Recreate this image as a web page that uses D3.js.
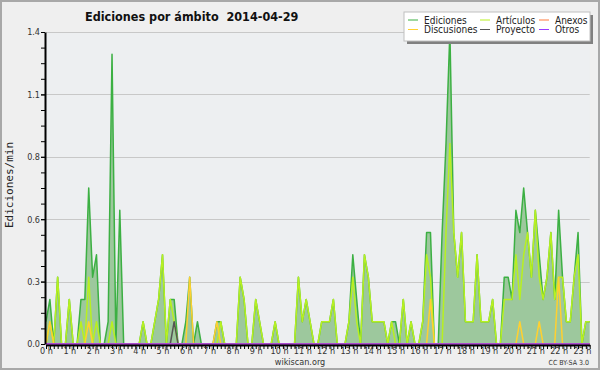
<!DOCTYPE html>
<html>
<head>
<meta charset="utf-8">
<script src="https://cdn.jsdelivr.net/npm/d3@7"></script>
<style>
body { margin: 0; background: #fff; }
svg { display: block; }
</style>
</head>
<body>
<div id="chart"></div>
<script>
// valores por franja de 10 minutos (0:00 .. 23:20), ediciones/min
var ediciones = [
  0.1,0.2,0,0.3,0,0, 0.2,0,0,0.2,0.2,0.7,
  0.3,0.4,0,0,0.1,1.3, 0,0.6,0,0,0,0,
  0,0.1,0,0,0.1,0.2, 0.4,0,0.2,0.2,0,0,
  0.1,0.3,0,0.1,0,0, 0,0,0.1,0.1,0,0,
  0,0,0.3,0.2,0,0, 0.2,0.1,0,0,0,0.1,
  0,0,0,0,0,0.3, 0.1,0.2,0.1,0,0,0.1,
  0.1,0.1,0.2,0,0,0, 0.1,0.4,0.2,0,0.4,0.3,
  0.1,0.1,0.1,0.1,0,0.1, 0.1,0,0.2,0,0.1,0,
  0,0.1,0.5,0.5,0,0, 0.5,0.9,1.4,0.5,0.3,0.5,
  0.1,0.1,0.1,0.4,0.1,0.1, 0.1,0.2,0,0,0.3,0.3,
  0.2,0.6,0.5,0.7,0.5,0.3, 0.6,0.4,0.2,0.3,0.5,0.2,
  0.6,0.3,0.1,0.1,0.3,0.5, 0,0.1,0.1
]
var articulos = [
  0,0.1,0,0.3,0,0, 0.2,0,0,0.1,0,0.3,
  0,0.1,0,0,0,0.1, 0,0,0,0,0,0,
  0,0.1,0,0,0.1,0.2, 0.4,0,0.2,0.1,0,0,
  0,0,0,0,0,0, 0,0,0,0.1,0,0,
  0,0,0.3,0.2,0,0, 0.2,0.1,0,0,0,0.1,
  0,0,0,0,0,0.3, 0.1,0.2,0.1,0,0,0.1,
  0.1,0.1,0.2,0,0,0, 0.1,0.3,0.1,0,0.4,0.3,
  0.1,0.1,0.1,0.1,0,0.1, 0,0,0.2,0,0.1,0,
  0,0.1,0.4,0.3,0,0, 0,0.5,0.9,0.5,0.3,0.5,
  0.1,0.1,0.1,0.4,0.1,0.1, 0.1,0.2,0,0,0.2,0.2,
  0.2,0.4,0.2,0.4,0.5,0.3, 0.6,0.3,0.2,0.3,0.5,0.2,
  0.3,0.3,0.1,0.1,0.3,0.4, 0,0.1,0.1
]
var discusiones = [
  0,0.1,0,0,0,0, 0,0,0,0,0,0.1,
  0,0,0,0,0,0, 0,0,0,0,0,0,
  0,0,0,0,0,0, 0,0,0,0,0,0,
  0,0.3,0,0,0,0, 0,0,0.1,0,0,0,
  0,0,0,0,0,0, 0,0,0,0,0,0,
  0,0,0,0,0,0, 0,0,0,0,0,0,
  0,0,0,0,0,0, 0,0,0,0,0,0,
  0,0,0,0,0,0, 0,0,0,0,0,0,
  0,0,0,0.2,0,0, 0,0,0,0,0,0,
  0,0,0,0,0,0, 0,0,0,0,0,0,
  0,0,0.1,0,0,0, 0,0.1,0,0,0,0,
  0.3,0,0,0,0,0, 0,0,0
]
var proyecto = [
  0,0,0,0,0,0, 0,0,0,0,0,0,
  0,0,0,0,0,0, 0,0,0,0,0,0,
  0,0,0,0,0,0, 0,0,0,0.1,0,0,
  0,0,0,0,0,0, 0,0,0,0,0,0,
  0,0,0,0,0,0, 0,0,0,0,0,0,
  0,0,0,0,0,0, 0,0,0,0,0,0,
  0,0,0,0,0,0, 0,0,0,0,0,0,
  0,0,0,0,0,0, 0,0,0,0,0,0,
  0,0,0,0,0,0, 0,0,0,0,0,0,
  0,0,0,0,0,0, 0,0,0,0,0,0,
  0,0,0,0,0,0, 0,0,0,0,0,0,
  0,0,0,0,0,0, 0,0,0
]
var anexos = ediciones.map(function(){ return 0 })
var otros = ediciones.map(function(){ return 0 })

var hourLabels = ['0 h','1 h','2 h','3 h','4 h','5 h','6 h','7 h','8 h','9 h','10 h','11 h',
                  '12 h','13 h','14 h','15 h','16 h','17 h','18 h','19 h','20 h','21 h','22 h','23 h']
var yTicks = [0, 0.28, 0.56, 0.84, 1.12, 1.4]
var yLabels = ['0.0','0.3','0.6','0.8','1.1','1.4']
var legendNames = ['Ediciones','Artículos','Anexos','Discusiones','Proyecto','Otros']
var legendColors = ['#3cb043','#b8f020','#ff7a3c','#ffd030','#555555','#9a3cff']

var svg = d3.select('#chart')
            .append('svg')
            .attr('width', 600)
            .attr('height', 370)

svg.append('rect')
    .attr('x', 1).attr('y', 1)
    .attr('width', 598).attr('height', 368)
    .attr('fill', '#efefef')
    .attr('stroke', '#a8a8a8')
    .attr('stroke-width', 2)

var x = d3.scaleLinear().domain([0, ediciones.length - 1]).range([46, 589.7])
var y = d3.scaleLinear().domain([0, 1.4]).range([344, 32])

svg.append('rect')
    .attr('x', x(0)).attr('y', y(1.4))
    .attr('width', x(ediciones.length - 1) - x(0))
    .attr('height', y(0) - y(1.4))
    .attr('fill', '#edeff1')

// rejilla
svg.append('g').selectAll('line')
    .data(yTicks.slice(1))
    .enter().append('line')
    .attr('x1', x(0)).attr('x2', x(ediciones.length - 1))
    .attr('y1', function(d){ return Math.round(y(d)) + 0.5 })
    .attr('y2', function(d){ return Math.round(y(d)) + 0.5 })
    .attr('stroke', '#c8c8c8')
    .attr('stroke-width', 1)

var area = d3.area()
    .x(function(d, i){ return x(i) })
    .y0(y(0))
    .y1(function(d){ return y(d) })

var line = d3.line()
    .x(function(d, i){ return x(i) })
    .y(function(d){ return y(d) })

svg.append('path')
    .datum(ediciones)
    .attr('d', area)
    .attr('fill', '#9dc89d')

var series = [ediciones, articulos, discusiones, proyecto, anexos, otros]
var seriesColors = ['#3cb043','#b8f020','#ffd030','#555555','#ff7a3c','#9a3cff']
series.forEach(function(s, k){
    svg.append('path')
        .datum(s)
        .attr('d', line)
        .attr('fill', 'none')
        .attr('stroke', seriesColors[k])
        .attr('stroke-width', 1.5)
        .attr('stroke-linejoin', 'round')
})

// eje x
var xAxis = d3.axisBottom(x)
    .tickValues(d3.range(0, ediciones.length))
    .tickSize(4)
    .tickSizeOuter(0)
    .tickFormat(function(d){ return d % 6 == 0 ? hourLabels[d / 6] : '' })
var gx = svg.append('g')
    .attr('transform', 'translate(0,' + (y(0) + 1) + ')')
    .call(xAxis)
gx.select('.domain').attr('stroke', '#000').attr('stroke-width', 2)
gx.selectAll('.tick line').attr('stroke', '#000').attr('stroke-width', 1)
gx.selectAll('text')
    .attr('y', 2.5)
    .attr('fill', '#333')
    .style('font-family', 'DejaVu Sans Condensed')
    .style('font-size', '9px')

// eje y
var minor = d3.range(0, 1.4001, 0.07)
var gyMinor = svg.append('g')
    .attr('transform', 'translate(' + (x(0) - 1) + ',0)')
    .call(d3.axisLeft(y).tickValues(minor).tickSize(4).tickFormat(''))
gyMinor.select('.domain').remove()
var gy = svg.append('g')
    .attr('transform', 'translate(' + (x(0) - 1) + ',0)')
    .call(d3.axisLeft(y).tickValues(yTicks).tickSize(4).tickSizeOuter(0)
          .tickFormat(function(d, i){ return yLabels[i] }))
gy.select('.domain').attr('stroke', '#000').attr('stroke-width', 2)
gy.selectAll('text')
    .attr('x', -5)
    .attr('fill', '#333')
    .style('font-family', 'DejaVu Sans Condensed')
    .style('font-size', '9px')

// textos
svg.append('text')
    .attr('x', 85).attr('y', 21)
    .style('font-family', 'DejaVu Sans Condensed')
    .style('font-weight', 'bold')
    .style('font-size', '12.5px')
    .style('white-space', 'pre')
    .attr('fill', '#111')
    .text('Ediciones por ámbito\u00a0\u00a02014-04-29')
svg.append('text')
    .attr('transform', 'translate(13,185) rotate(-90)')
    .style('text-anchor', 'middle')
    .style('font-family', 'DejaVu Sans Mono')
    .style('font-size', '11px')
    .attr('fill', '#222')
    .text('Ediciones/min')
svg.append('text')
    .attr('x', 300).attr('y', 365)
    .style('text-anchor', 'middle')
    .style('font-family', 'DejaVu Sans Condensed')
    .style('font-size', '9px')
    .attr('fill', '#333')
    .text('wikiscan.org')
svg.append('text')
    .attr('x', 589).attr('y', 365)
    .style('text-anchor', 'end')
    .style('font-family', 'DejaVu Sans Condensed')
    .style('font-size', '7px')
    .attr('fill', '#333')
    .text('CC BY-SA 3.0')

// leyenda
var lg = svg.append('g')
lg.append('rect')
    .attr('x', 407).attr('y', 15).attr('width', 186).attr('height', 29)
    .attr('fill', '#808080')
lg.append('rect')
    .attr('x', 404).attr('y', 12).attr('width', 186).attr('height', 29)
    .attr('fill', '#fff')
    .attr('stroke', '#c0c0c0')
var colX = [408, 480, 539]
var rowY = [20, 29.5]
legendNames.forEach(function(n, i){
    var cx = colX[i % 3], cy = rowY[Math.floor(i / 3)]
    lg.append('line')
        .attr('x1', cx).attr('x2', cx + 10)
        .attr('y1', cy).attr('y2', cy)
        .attr('stroke', legendColors[i])
        .attr('stroke-width', 1)
    lg.append('text')
        .attr('x', cx + 16).attr('y', cy + 3.5)
        .style('font-family', 'DejaVu Sans Condensed')
        .style('font-size', '10px')
        .attr('fill', '#222')
        .text(n)
})
</script>
</body>
</html>
